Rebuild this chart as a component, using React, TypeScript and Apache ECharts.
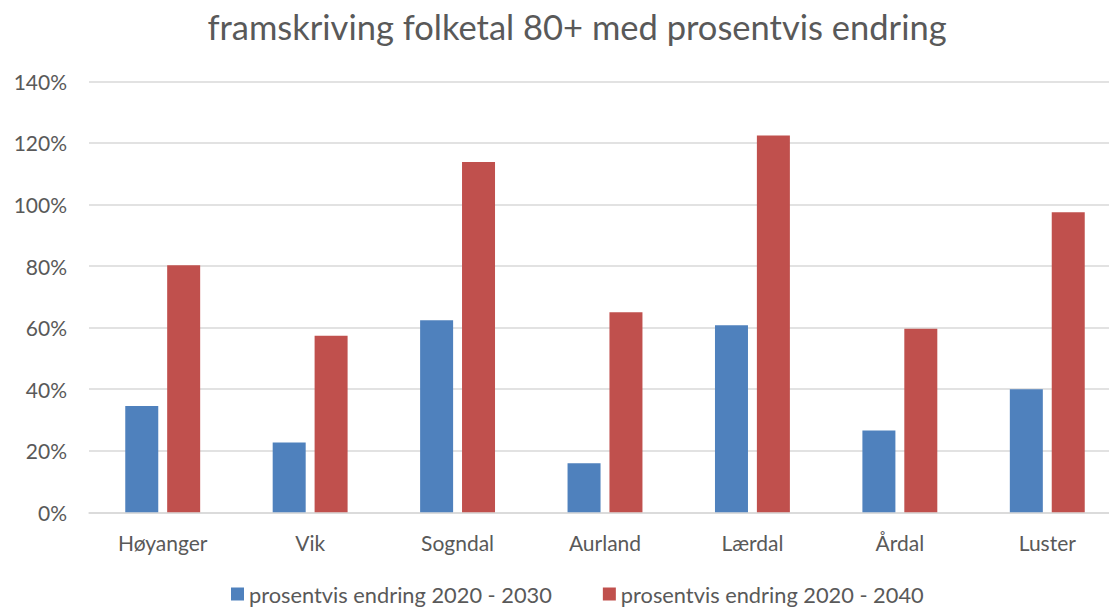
import React, { useEffect, useRef } from "react";
import * as echarts from "echarts";

const categories = ["Høyanger", "Vik", "Sogndal", "Aurland", "Lærdal", "Årdal", "Luster"];
const series2030 = [34.5, 22.7, 62.4, 15.9, 60.8, 26.6, 40.0];
const series2040 = [80.3, 57.4, 113.8, 65.0, 122.4, 59.6, 97.5];
const seriesNames = ["prosentvis endring 2020 - 2030", "prosentvis endring 2020 - 2040"];
const titleText = "framskriving folketal 80+ med prosentvis endring";

const FONT = "Lato";
const TEXT = "#595959";

export default function App() {
  const ref = useRef<HTMLDivElement>(null);
  useEffect(() => {
    document.body.style.margin = "0";
    const chart = echarts.init(ref.current!, null, { renderer: "svg" });
    chart.setOption({
      animation: false,
      backgroundColor: "#ffffff",
      textStyle: { fontFamily: FONT },
      title: {
        text: titleText,
        left: 572,
        top: 4,
        textAlign: "center",
        textStyle: { fontFamily: FONT, fontSize: 34.5, fontWeight: "normal", color: TEXT },
      },
      legend: {
        left: 231,
        top: 583,
        padding: 0,
        itemWidth: 13,
        itemHeight: 13,
        itemGap: 51,
        icon: "rect",
        textStyle: { fontFamily: FONT, fontSize: 21.8, color: TEXT },
        data: seriesNames,
      },
      grid: { left: 89, width: 1032, top: 81.4, bottom: 95.7, containLabel: false },
      xAxis: {
        type: "category",
        data: categories,
        axisLine: { show: true, lineStyle: { color: "#d9d9d9", width: 1.5 } },
        axisTick: { show: false },
        axisLabel: { fontFamily: FONT, fontSize: 21, color: TEXT, margin: 20 },
      },
      yAxis: {
        type: "value",
        min: 0,
        max: 140,
        interval: 20,
        axisLine: { show: false },
        axisTick: { show: false },
        splitLine: { lineStyle: { color: "#d9d9d9", width: 1.5 } },
        axisLabel: { formatter: "{value}%", fontFamily: FONT, fontSize: 21, color: TEXT, margin: 22 },
      },
      series: [
        {
          name: seriesNames[0],
          type: "bar",
          data: series2030,
          barWidth: 33,
          barGap: "27%",
          itemStyle: { color: "#4F81BD" },
        },
        {
          name: seriesNames[1],
          type: "bar",
          data: series2040,
          barWidth: 33,
          barGap: "27%",
          itemStyle: { color: "#C0504D" },
        },
      ],
    });
    return () => chart.dispose();
  }, []);
  return (
    <div style={{ width: 1109, height: 608, overflow: "hidden", position: "relative" }}>
      <div ref={ref} style={{ width: 1140, height: 608 }} />
    </div>
  );
}
